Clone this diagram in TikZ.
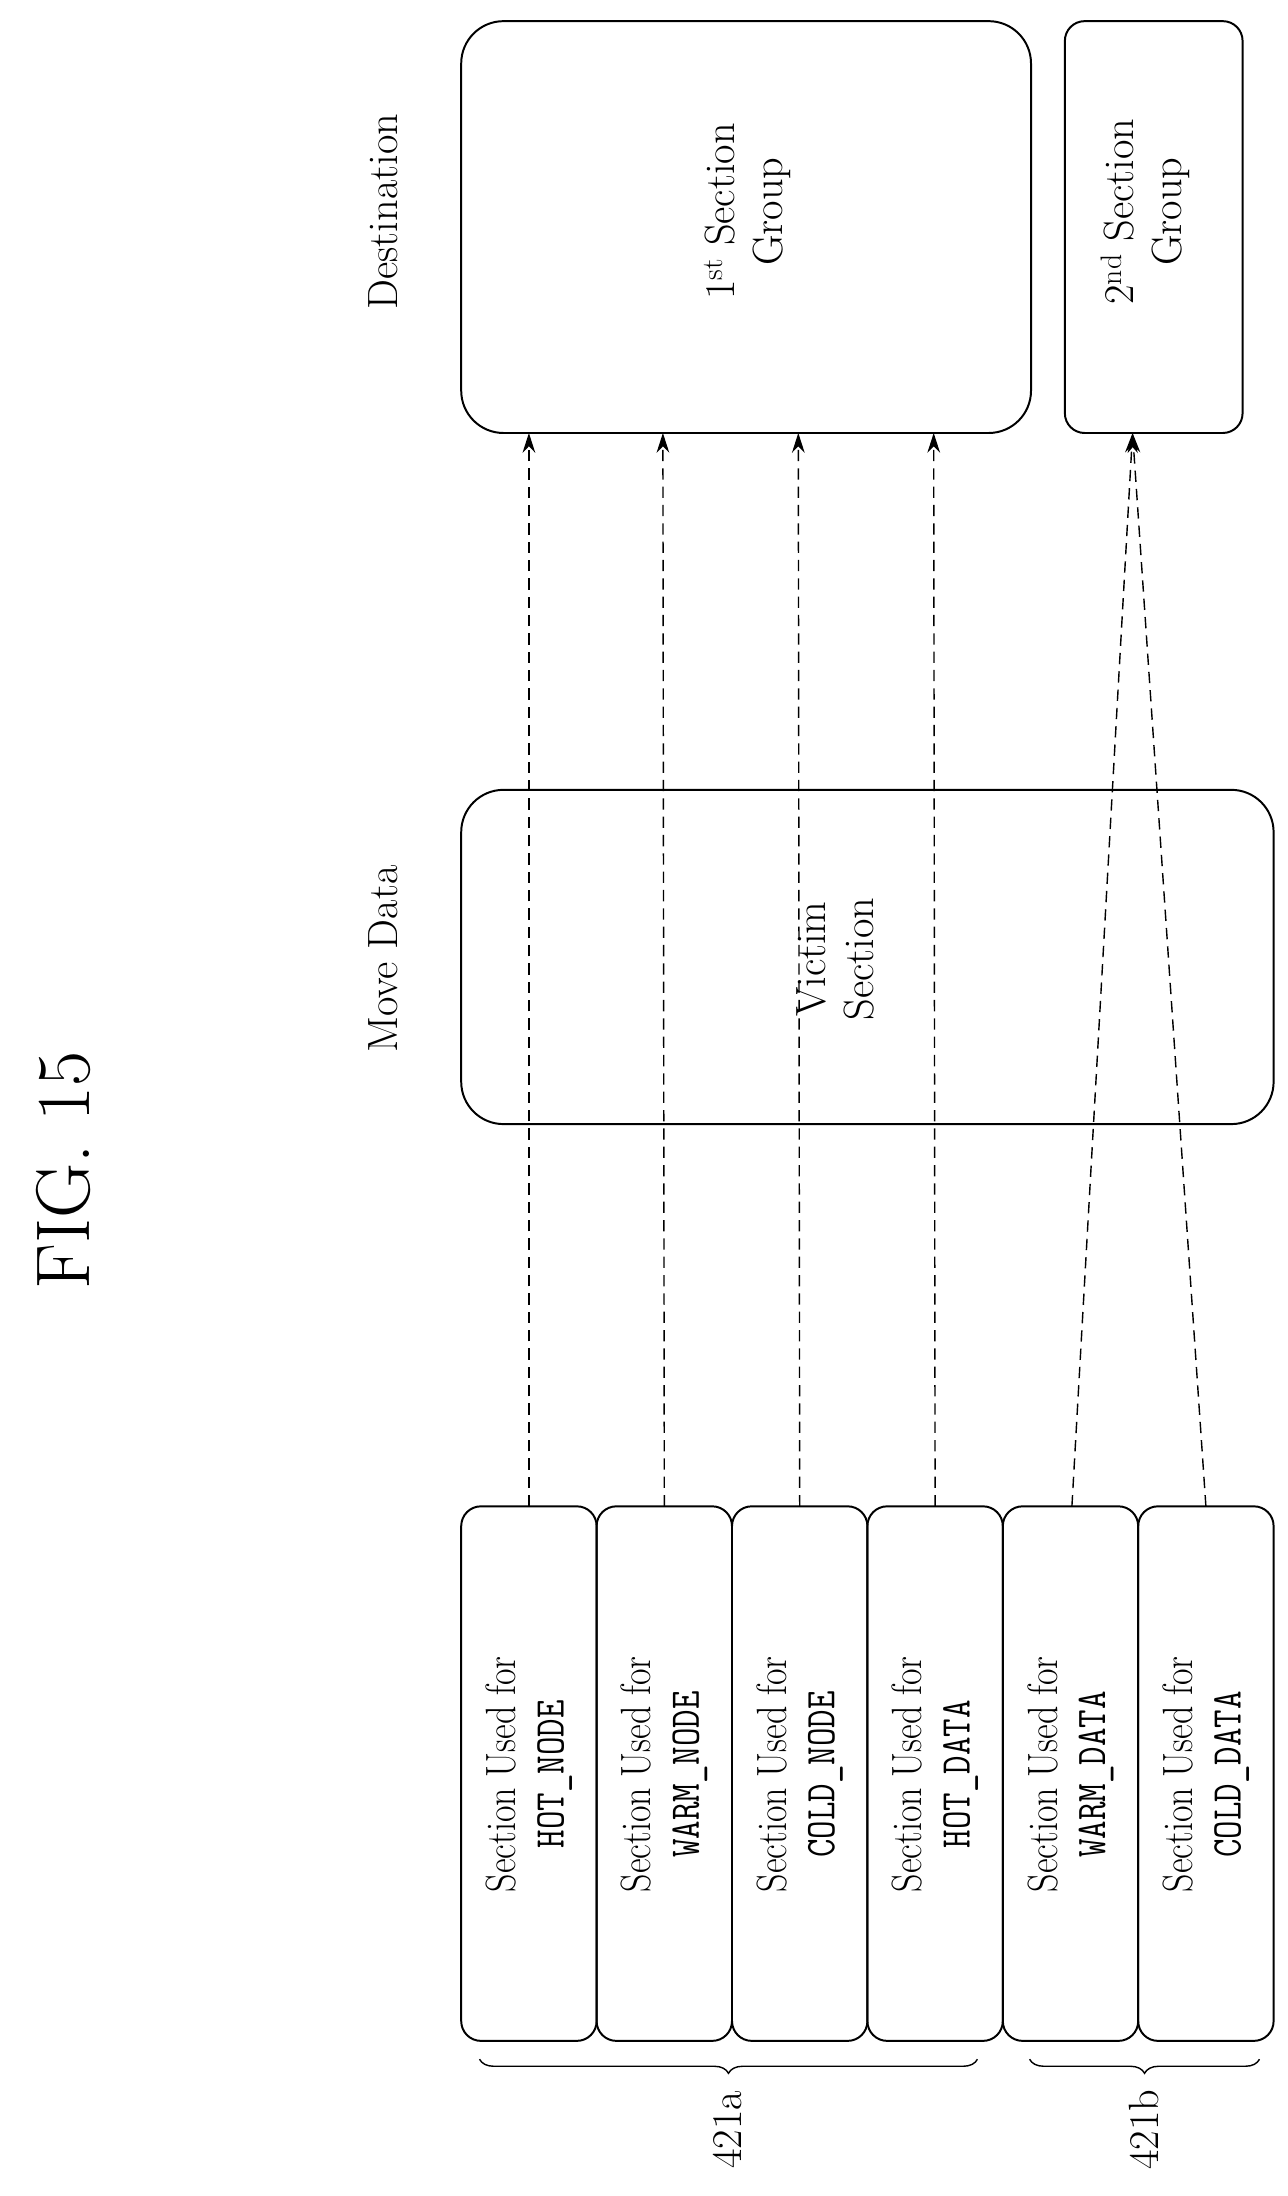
\documentclass[tikz,border=0pt]{standalone}
\usetikzlibrary{decorations.pathreplacing,arrows.meta}
\begin{document}
\begin{tikzpicture}[x=1pt,y=-1pt,
 box/.style={draw,line width=1.4pt,rounded corners=14pt},
 big/.style={draw,line width=1.4pt,rounded corners=30pt},
 lbl/.style={rotate=90,font=\fontsize{30}{34}\selectfont,align=center},
 arr/.style={dashed,line width=1pt,dash pattern=on 8pt off 5pt,-{Stealth[length=14pt,width=9pt]}},
 br/.style={decorate,decoration={brace,amplitude=10pt,mirror},line width=1pt}]
\useasboundingbox (0,0) rectangle (913,1557);
\node[rotate=90,font=\fontsize{54}{60}\selectfont] (fig) at (45,830) {FIG. 15};
% left boxes
\foreach \i/\n/\t in {0/a/HOT\_NODE,1/b/WARM\_NODE,2/c/COLD\_NODE,3/d/HOT\_DATA,4/e/WARM\_DATA,5/f/COLD\_DATA}{
  \draw[box] ({327+96*\i},1068) rectangle ({327+96*\i+96},1447);
  \node[lbl,xscale=0.85] (s\n) at ({375+96*\i},1258) {Section Used for\\{\ttfamily\t}};
  \coordinate (t\n) at ({375+96*\i},1068);
}
\draw[big] (327,560) rectangle (903,797);
\node[lbl] (victim) at (592,680) {Victim\\Section};
\node[lbl] (move) at (272,680) {Move Data};
\draw[big] (327,15) rectangle (731,307);
\node[lbl] (g1) at (530,150) {1\textsuperscript{st} Section\\Group};
\draw[box] (755,15) rectangle (881,307);
\node[lbl] (g2) at (812,150) {2\textsuperscript{nd} Section\\Group};
\node[lbl] (dest) at (272,150) {Destination};
\coordinate (h1) at (375,307);
\coordinate (h2) at (470,307);
\coordinate (h3) at (566,307);
\coordinate (h4) at (662,307);
\coordinate (h5) at (803,307);
\draw[arr] (ta) -- (h1);
\draw[arr] (tb) -- (h2);
\draw[arr] (tc) -- (h3);
\draw[arr] (td) -- (h4);
\draw[arr] (760,1068) -- (h5);
\draw[arr] (855,1068) -- (h5);
\draw[br] (340,1460) -- (693,1460);
\draw[br] (730,1460) -- (893,1460);
\node[lbl] (la) at (516,1510) {421a};
\node[lbl] (lb) at (811,1510) {421b};
\end{tikzpicture}
\end{document}
